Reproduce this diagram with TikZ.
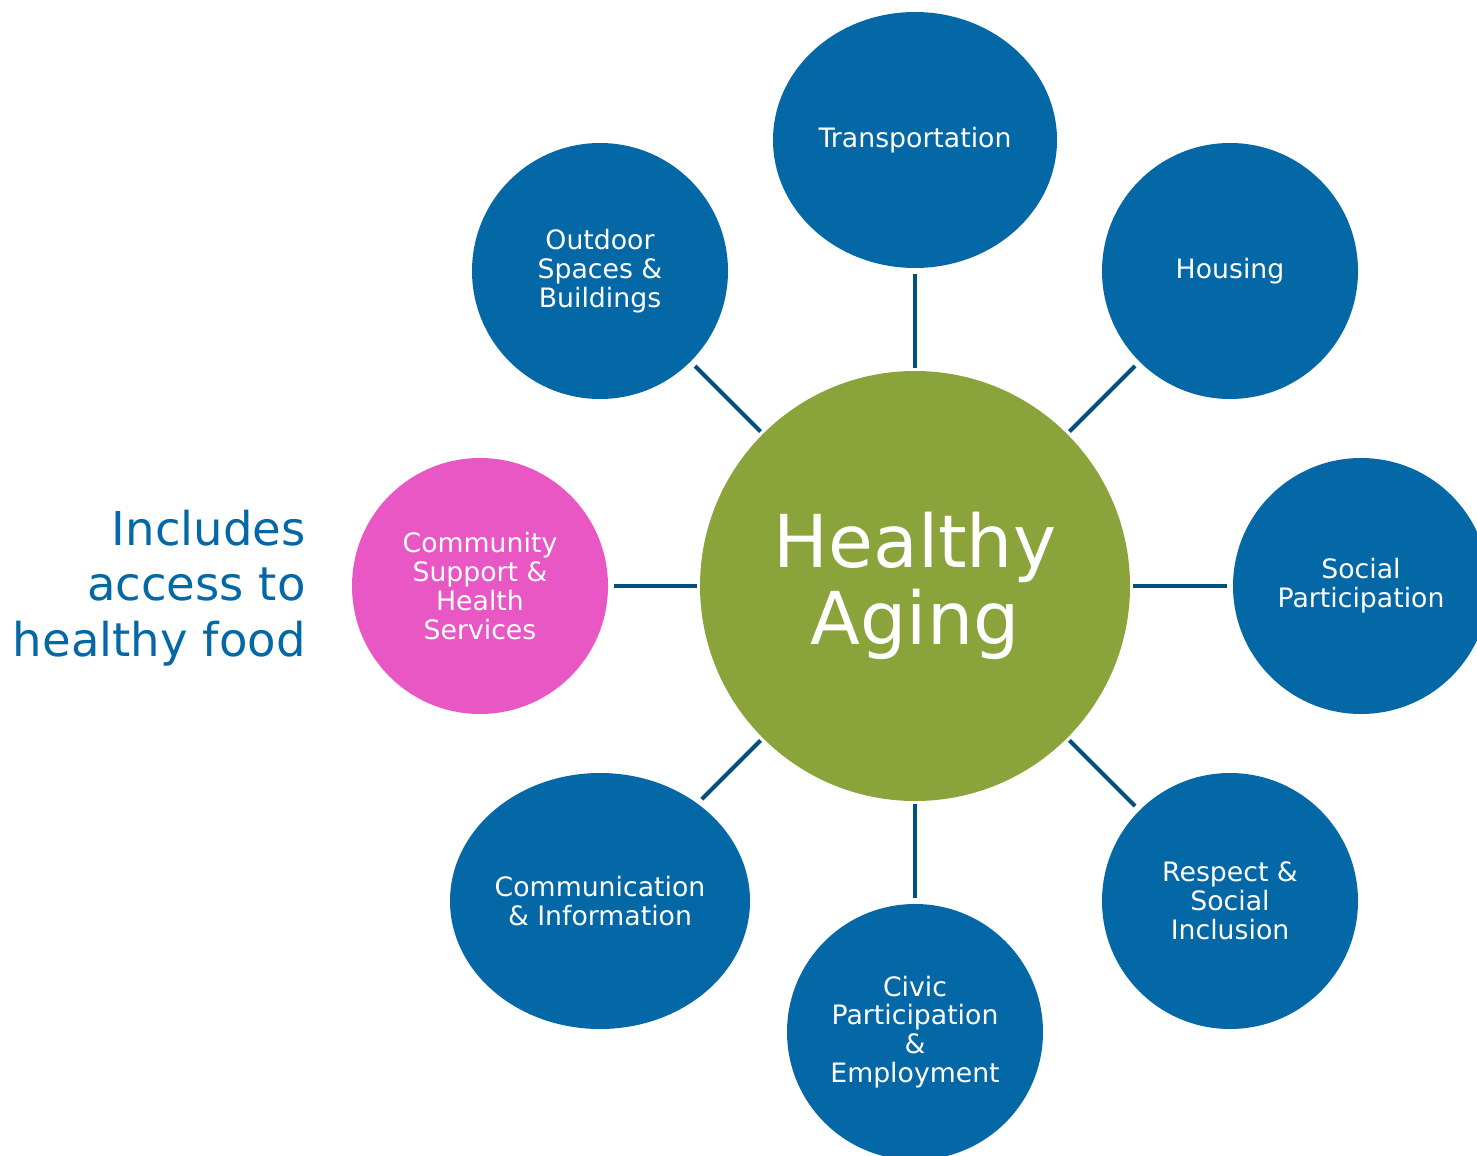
\documentclass[tikz,border=0pt]{standalone}
\usepackage{fontspec}
\setmainfont{DejaVu Sans}
\usetikzlibrary{shapes.geometric}
\definecolor{topicblue}{HTML}{0467A6}
\definecolor{hubgreen}{HTML}{8AA33B}
\definecolor{foodpink}{HTML}{E857C3}
\definecolor{linkblue}{HTML}{02507F}
\begin{document}
\begin{tikzpicture}[
    topic/.style={ellipse, fill=#1, text=white, inner sep=0pt, minimum width=5.12cm, minimum height=5.12cm, align=center, font=\fontsize{15.2}{16.4}\selectfont},
    hub/.style={circle, fill=hubgreen, text=white, inner sep=0pt, minimum size=8.6cm, align=center, font=\fontsize{41.5}{44}\selectfont},
    link/.style={draw=linkblue, line width=2.3pt, shorten <=0.06cm, shorten >=0.12cm}
]
    \useasboundingbox (0,0) rectangle (29.54,-23.10);
    \clip (0,0) rectangle (29.54,-23.10);

    % Centre
    \node[hub] (aging) at (18.30,-11.72) {Healthy\\Aging};

    % Topics
    \node[topic=topicblue, minimum width=5.68cm] (transport) at (18.30,-2.80) {Transportation};
    \node[topic=topicblue] (outdoor) at (12.00,-5.42) {Outdoor\\Spaces \&\\Buildings};
    \node[topic=topicblue] (housing) at (24.60,-5.42) {Housing};
    \node[topic=topicblue] (social) at (27.22,-11.72) {Social\\Participation};
    \node[topic=topicblue] (respect) at (24.60,-18.02) {Respect \&\\Social\\Inclusion};
    \node[topic=topicblue] (civic) at (18.30,-20.64) {Civic\\Participation\\\&\\Employment};
    \node[topic=topicblue, minimum width=6.0cm] (comm) at (12.00,-18.02) {Communication\\\& Information};
    \node[topic=foodpink] (community) at (9.60,-11.72) {Community\\Support \&\\Health\\Services};

    % Note
    \node[anchor=east, align=right, inner sep=0pt, text=topicblue, font=\fontsize{26.5}{31.7}\selectfont] (note) at (6.12,-11.76) {Includes\\access to\\healthy food};

    % Links
    \foreach \t in {transport, outdoor, housing, social, respect, civic, comm, community}
        \draw[link] (aging) -- (\t);
\end{tikzpicture}
\end{document}
